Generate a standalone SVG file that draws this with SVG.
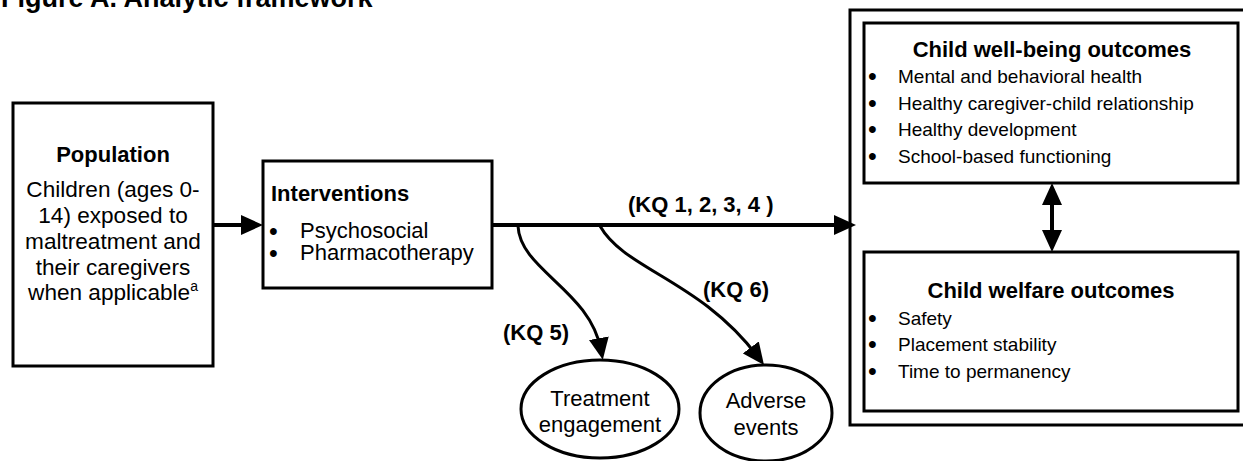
<svg xmlns="http://www.w3.org/2000/svg" width="1243" height="461" viewBox="0 0 1243 461">
  <defs>
    <style>
      text { font-family: "Liberation Sans", Arial, sans-serif; fill: #000; }
      .b { font-weight: bold; font-size: 22px; }
      .r22 { font-size: 22px; }
      .rp { font-size: 22.6px; }
      .r19 { font-size: 19px; }
      .bul { font-size: 25px; }
      .box { fill: #fff; stroke: #000; stroke-width: 3; }
      .ell { fill: #fff; stroke: #000; stroke-width: 3; }
      .thick { fill: none; stroke: #000; stroke-width: 4; }
      .curve { fill: none; stroke: #000; stroke-width: 3; }
      .mid { text-anchor: middle; }
    </style>
    <marker id="arrow" markerUnits="userSpaceOnUse" markerWidth="22" markerHeight="20" viewBox="0 0 22 20" refX="12" refY="10" orient="auto-start-reverse">
      <path d="M0,0 L22,10 L0,20 z" fill="#000"/>
    </marker>
  </defs>

  <text id="title" class="b" x="1" y="7" style="font-size:27px">Figure A. Analytic framework</text>

  <g id="outer-outcomes">
    <rect class="box" x="850" y="10" width="420" height="415"/>
  </g>

  <g id="population">
    <rect class="box" x="13" y="103" width="200" height="263"/>
    <text class="b mid" x="113" y="162">Population</text>
    <text class="rp mid" x="113" y="197">Children (ages 0-</text>
    <text class="rp mid" x="113" y="223">14) exposed to</text>
    <text class="rp mid" x="113" y="248.5">maltreatment and</text>
    <text class="rp mid" x="113" y="274.5">their caregivers</text>
    <text class="rp mid" x="113" y="300">when applicable<tspan dy="-9" style="font-size:14px">a</tspan></text>
  </g>

  <g id="interventions">
    <rect class="box" x="263" y="161" width="229" height="127"/>
    <text class="b" x="271" y="201">Interventions</text>
    <text class="bul" x="269" y="240">•</text>
    <text class="r22" x="300" y="238">Psychosocial</text>
    <text class="bul" x="269" y="262">•</text>
    <text class="r22" x="300" y="260">Pharmacotherapy</text>
  </g>

  <g id="wellbeing">
    <rect class="box" x="864" y="23" width="374" height="160"/>
    <text class="b mid" x="1052" y="57">Child well-being outcomes</text>
    <text class="bul" x="868" y="85">•</text>
    <text class="r19" x="898" y="83">Mental and behavioral health</text>
    <text class="bul" x="868" y="111.5">•</text>
    <text class="r19" x="898" y="109.5">Healthy caregiver-child relationship</text>
    <text class="bul" x="868" y="138">•</text>
    <text class="r19" x="898" y="136">Healthy development</text>
    <text class="bul" x="868" y="164.5">•</text>
    <text class="r19" x="898" y="162.5">School-based functioning</text>
  </g>

  <g id="welfare">
    <rect class="box" x="864" y="252" width="374" height="159"/>
    <text class="b mid" x="1051" y="298">Child welfare outcomes</text>
    <text class="bul" x="868" y="326.5">•</text>
    <text class="r19" x="898" y="324.5">Safety</text>
    <text class="bul" x="868" y="353">•</text>
    <text class="r19" x="898" y="351">Placement stability</text>
    <text class="bul" x="868" y="379.5">•</text>
    <text class="r19" x="898" y="377.5">Time to permanency</text>
  </g>

  <g id="treatment">
    <ellipse class="ell" cx="600" cy="409" rx="79" ry="49"/>
    <text class="r22 mid" x="600" y="406">Treatment</text>
    <text class="r22 mid" x="600" y="432">engagement</text>
  </g>

  <g id="adverse">
    <ellipse class="ell" cx="766" cy="413" rx="66" ry="48"/>
    <text class="r22 mid" x="766" y="408">Adverse</text>
    <text class="r22 mid" x="766" y="435">events</text>
  </g>

  <g id="connectors">
    <path class="thick" d="M213,225 L253,225" marker-end="url(#arrow)"/>
    <path class="thick" d="M492,225 L846,225" marker-end="url(#arrow)"/>
    <path class="thick" d="M1052,193 L1052,242" marker-start="url(#arrow)" marker-end="url(#arrow)"/>
    <path class="curve" d="M518,226 C520,270 590,290 601,350" marker-end="url(#arrow)"/>
    <path class="curve" d="M600,226 C625,270 700,280 758,357" marker-end="url(#arrow)"/>
    <text class="b" x="628" y="212">(KQ 1, 2, 3, 4 )</text>
    <text class="b" x="503" y="340">(KQ 5)</text>
    <text class="b" x="703" y="297">(KQ 6)</text>
  </g>
</svg>
